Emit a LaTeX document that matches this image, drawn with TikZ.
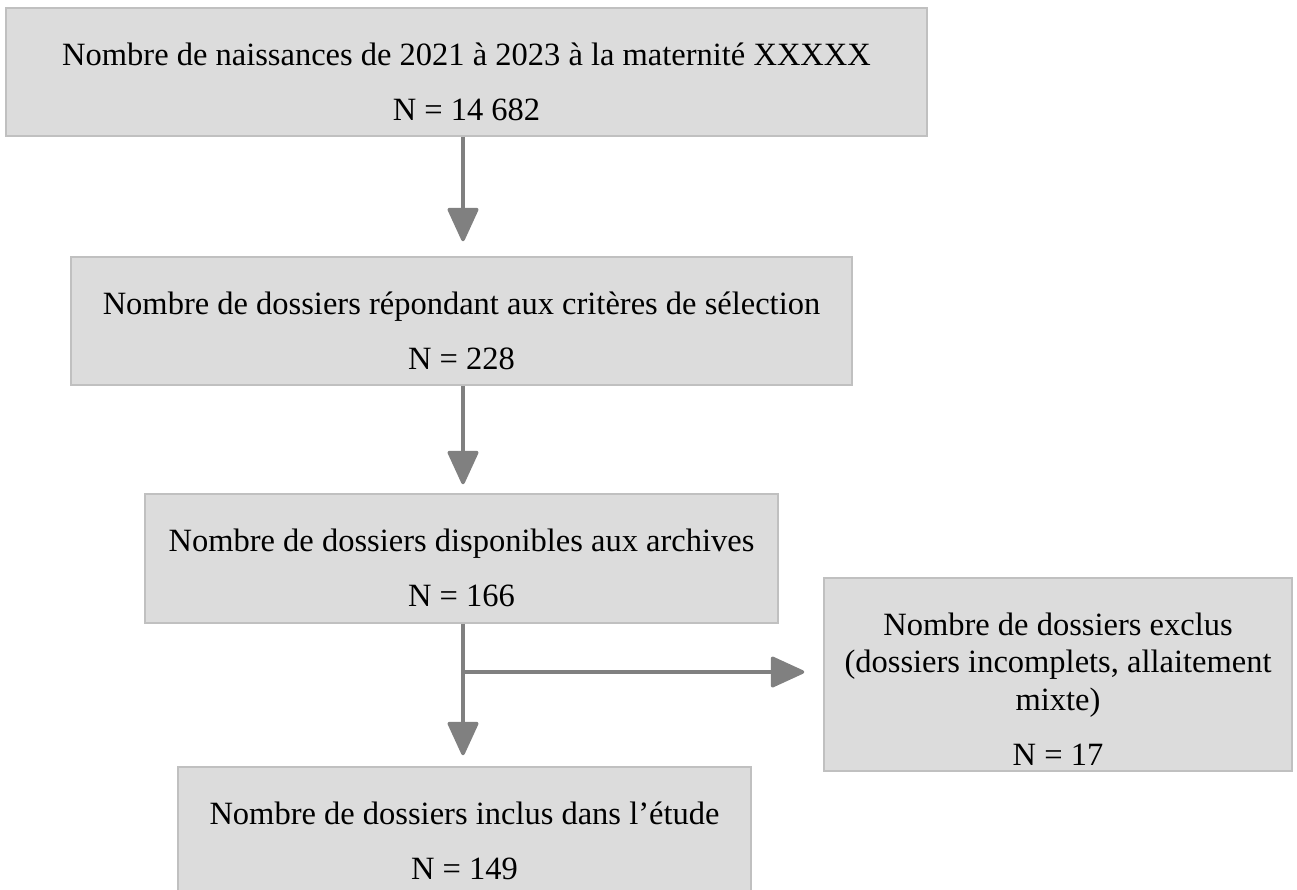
\documentclass[tikz,border=0pt]{standalone}
\usepackage{fontspec}
\setmainfont{Liberation Serif}
\usetikzlibrary{arrows.meta}

\definecolor{boxfill}{HTML}{DCDCDC}
\definecolor{boxline}{HTML}{C0C0C0}
\definecolor{arrowgray}{HTML}{808080}

\begin{document}
\begin{tikzpicture}[x = 1pt, y = 1pt,
    box/.style = {shape = rectangle, draw = boxline, line width = 1.5pt, fill = boxfill, inner sep = 0pt},
    txt/.style = {anchor = north, yshift = -35pt, align = center, inner sep = 0pt, font = \fontsize{32.5}{37.5}\selectfont},
    arr/.style = {draw = arrowgray, line width = 3.5pt, -{Triangle[length = 36pt, width = 32pt, round]}}]
    \useasboundingbox (0,0) rectangle (1297,-889);
    \node [box, minimum width = 921pt, minimum height = 128pt] (b1) at (466.5,-72) {};
    \node [box, minimum width = 781pt, minimum height = 128pt] (b2) at (461.5,-321) {};
    \node [box, minimum width = 633pt, minimum height = 129pt] (b3) at (461.5,-558.5) {};
    \node [box, minimum width = 468pt, minimum height = 193pt] (b4) at (1058,-674.5) {};
    \node [box, minimum width = 573pt, minimum height = 128pt] (b5) at (464.5,-831) {};
    \node [txt] (t1) at (b1.north) {Nombre de naissances de 2021 à 2023 à la maternité XXXXX\\[18pt]N = 14 682};
    \node [txt] (t2) at (b2.north) {Nombre de dossiers répondant aux critères de sélection\\[18pt]N = 228};
    \node [txt] (t3) at (b3.north) {Nombre de dossiers disponibles aux archives\\[18pt]N = 166};
    \node [txt] (t4) at (b4.north) {Nombre de dossiers exclus\\(dossiers incomplets, allaitement\\mixte)\\[18pt]N = 17};
    \node [txt] (t5) at (b5.north) {Nombre de dossiers inclus dans l’étude\\[18pt]N = 149};
    \coordinate (br) at (463,-672);
    \draw [arr, shorten > = 15pt] (b1.south -| br) -- (b2.north -| br);
    \draw [arr, shorten > = 9pt] (b2.south -| br) -- (b3.north -| br);
    \draw [arr, shorten > = 11pt] (b3.south -| br) -- (b5.north -| br);
    \draw [arr, shorten > = 19pt] (br) -- (br -| b4.west);
\end{tikzpicture}
\end{document}
